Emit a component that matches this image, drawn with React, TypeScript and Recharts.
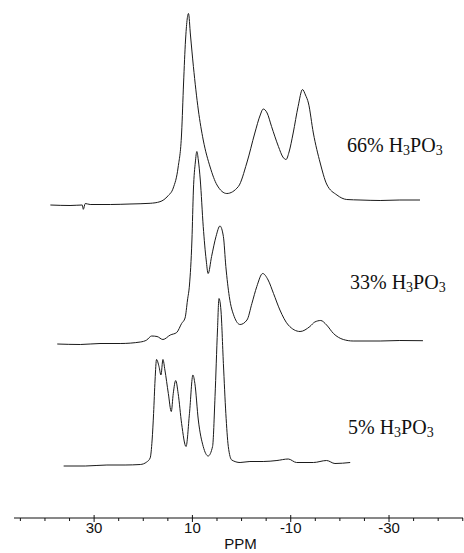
import React from 'react';
import { LineChart, Line, XAxis, YAxis } from 'recharts';

// 31P NMR spectra, chemical shift in ppm (x runs high -> low)
// each trace: ppm positions + intensity above its own baseline

const ppm66 = [38.9, 34.9, 32.4, 32.2, 31.8, 30.8, 26.7, 22.7, 18.6, 16.6, 15.0, 13.9, 12.9, 12.2, 11.8, 11.4, 10.8, 10.4, 9.8, 8.8, 7.8, 6.4, 5.0, 3.0, 0.65, -1.06, -2.7, -3.8, -4.4, -5.2, -6.1, -7.5, -8.4, -9.05, -9.66, -10.5, -11.5, -12.4, -13.0, -13.6, -14.6, -16.0, -17.3, -19.4, -21.4, -24.1, -28.2, -32.2, -36.3];
const int66 = [0, -0.1, 0, -0.86, 0.3, 0.1, 0.1, 0.2, 0.34, 0.66, 1.8, 3.4, 7.6, 14.4, 24.4, 33, 38.3, 34, 27.7, 19, 13, 7.6, 4, 2.3, 3.7, 8.4, 14.4, 18, 19.2, 18.4, 15.7, 11.7, 9.6, 9.1, 10.6, 14.4, 19.7, 23.1, 22, 20.4, 14.4, 8.4, 4.2, 2, 1.1, 1, 0.9, 1, 1];

const ppm33 = [37.5, 32.8, 28.8, 24.7, 20.6, 19.3, 18.3, 17.2, 16.0, 14.5, 13.2, 12.2, 11.5, 11.0, 10.6, 10.1, 9.8, 9.4, 9.1, 8.8, 8.4, 7.8, 7.2, 6.8, 6.1, 5.2, 4.4, 3.7, 3.2, 2.5, 1.5, 0.3, -1.1, -2.1, -3.1, -4.3, -5.4, -6.5, -7.8, -9.5, -11.9, -13.9, -14.9, -16.1, -17.3, -18.7, -20.7, -22.7, -28.2, -32.2, -36.9];
const int33 = [0, -0.1, 0.1, 0.1, 0.4, 0.8, 1.6, 1.5, 0.9, 1.8, 2.3, 4.1, 5.2, 8.8, 11.8, 20.8, 30.8, 36.4, 38.5, 36.8, 32.8, 23.5, 16.8, 14.1, 17.5, 21.5, 23.6, 21.5, 15.5, 9.5, 5.5, 3.9, 4.8, 8.1, 11.5, 14.1, 12.8, 10.1, 6.8, 3.8, 2.5, 3.5, 4.4, 4.7, 3.8, 2.1, 0.9, 0.6, 0.6, 0.7, 0.66];

const ppm5 = [36.2, 31.8, 27.4, 23.7, 20.6, 19.3, 18.6, 18.2, 17.9, 17.6, 17.3, 16.8, 16.4, 16.0, 15.6, 14.9, 14.3, 13.9, 13.4, 12.9, 12.2, 11.3, 10.6, 9.9, 9.5, 8.8, 7.8, 6.8, 5.9, 5.4, 4.9, 4.6, 4.2, 3.7, 3.2, 2.7, 2.0, 0.3, -1.7, -4.4, -7.2, -9.5, -11.2, -14.6, -17.3, -19.0, -22.1];
const int5 = [0, 0, 0.2, 0.2, 0.3, 0.8, 1.6, 5.2, 10.5, 17.2, 21.3, 19.9, 18.2, 21.3, 19.2, 14.5, 10.9, 14.5, 17.1, 14.5, 8.5, 3.9, 10.5, 18.2, 16.5, 9.2, 3.9, 2, 3.9, 13.9, 27.2, 33.5, 31.2, 20.5, 10.5, 3.9, 1.2, 0.7, 0.9, 0.9, 1.1, 1.4, 0.7, 0.7, 1.1, 0.5, 0.7];

// vertical stacking of the traces
const offsets = [62.6, 34.8, 10.4];

const xTicks = [45, 40, 35, 30, 25, 20, 15, 10, 5, 0, -5, -10, -15, -20, -25, -30, -35, -40, -45];
const labelled = [30, 10, -10, -30];

const build = (ppm: number[], vals: number[], off: number) =>
  ppm.map((p, i) => ({ ppm: p, v: vals[i] + off }));

const trace66 = build(ppm66, int66, offsets[0]);
const trace33 = build(ppm33, int33, offsets[1]);
const trace5 = build(ppm5, int5, offsets[2]);

const sans = "'Liberation Sans', Arial, sans-serif";

const PpmTick = (props: any) => {
  const { x, y, payload } = props;
  const major = labelled.includes(payload.value);
  return (
    <g>
      <line x1={x} x2={x} y1={major ? y - 3 : y} y2={major ? y + 4 : y + 3} stroke="#111" strokeWidth={1} />
      {major && (
        <text x={x} y={y + 15} textAnchor="middle" fontSize={15} fontFamily={sans} fill="#111">
          {payload.value}
        </text>
      )}
    </g>
  );
};

const labelStyle: React.CSSProperties = {
  position: 'absolute',
  left: 347,
  fontFamily: "'Liberation Serif', 'Times New Roman', serif",
  fontSize: 20,
  lineHeight: '20px',
  color: '#111',
  whiteSpace: 'nowrap',
};

const Formula = ({ pct }: { pct: string }) => (
  <span>
    {pct}% H<sub style={{ fontSize: 14, verticalAlign: -3 }}>3</sub>PO<sub style={{ fontSize: 14, verticalAlign: -3 }}>3</sub>
  </span>
);

export default function App() {
  return (
    <div style={{ position: 'absolute', left: 0, top: 0, width: 464, height: 553, background: '#fff' }}>
      <LineChart width={464} height={553} margin={{ top: 8, right: 1, bottom: 0, left: 14 }}>
        <XAxis
          dataKey="ppm"
          type="number"
          domain={[-45.05, 46.3]}
          reversed
          allowDataOverflow
          ticks={xTicks}
          interval={0}
          tickSize={0}
          tickMargin={0}
          tickLine={false}
          tick={<PpmTick />}
          height={35}
          axisLine={{ stroke: '#111', strokeWidth: 1 }}
          label={{ value: 'PPM', position: 'insideBottom', offset: 4, dx: 2, fontSize: 15, fill: '#111', fontFamily: sans }}
        />
        <YAxis hide type="number" domain={[0, 102]} allowDataOverflow />
        <Line data={trace66} dataKey="v" type="monotone" stroke="#1a1a1a" strokeWidth={1} dot={false} isAnimationActive={false} />
        <Line data={trace33} dataKey="v" type="monotone" stroke="#1a1a1a" strokeWidth={1} dot={false} isAnimationActive={false} />
        <Line data={trace5} dataKey="v" type="monotone" stroke="#1a1a1a" strokeWidth={1} dot={false} isAnimationActive={false} />
      </LineChart>
      <div style={{ ...labelStyle, top: 135 }}><Formula pct="66" /></div>
      <div style={{ ...labelStyle, top: 272, left: 350 }}><Formula pct="33" /></div>
      <div style={{ ...labelStyle, top: 417, left: 348 }}><Formula pct="5" /></div>
    </div>
  );
}
